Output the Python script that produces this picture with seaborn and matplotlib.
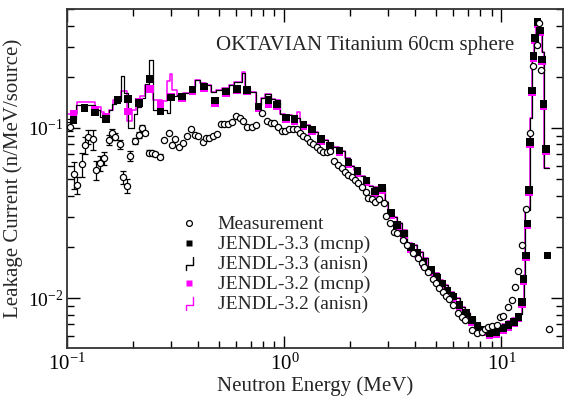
import numpy as np
import pandas as pd
import matplotlib
matplotlib.use("Agg")
import matplotlib.pyplot as plt
import seaborn as sns
from matplotlib.lines import Line2D
from matplotlib.legend_handler import HandlerBase
from matplotlib.ticker import LogLocator, NullFormatter

# ---------------- data ----------------
meas_E = [0.1032, 0.1077, 0.1108, 0.1169, 0.1210, 0.1245, 0.1309, 0.1360, 0.1419, 0.1480,
          0.1551, 0.1607, 0.1653, 0.1744, 0.1800, 0.1884, 0.1951, 0.2045, 0.2133, 0.2209,
          0.2288, 0.2387, 0.2457, 0.2545, 0.2683, 0.2799, 0.2934, 0.3028, 0.3136, 0.3271,
          0.3403, 0.3549, 0.3705, 0.3865, 0.4015, 0.4207, 0.4357, 0.4512, 0.4708, 0.4882,
          0.5109, 0.5291, 0.5521, 0.5741, 0.5990, 0.6250, 0.6474, 0.6754, 0.7076, 0.7384,
          0.7871, 0.8298, 0.8658, 0.8994, 0.9384, 0.9728, 1.0106, 1.051, 1.093, 1.141,
          1.181, 1.223, 1.268, 1.313, 1.360, 1.410, 1.460, 1.512, 1.568, 1.624,
          1.694, 1.762, 1.838, 1.904, 1.972, 2.045, 2.118, 2.193, 2.274, 2.380,
          2.438, 2.528, 2.618, 2.740, 2.889, 2.942, 3.069, 3.203, 3.317, 3.512,
          3.664, 3.905, 4.144, 4.297, 4.403, 4.609, 4.830, 5.002, 5.180, 5.370,
          5.561, 5.760, 6.010, 6.337, 6.570, 6.804, 7.304, 7.751, 8.122, 8.412,
          8.711, 9.032, 9.506, 9.791, 10.21, 10.66, 11.17, 11.57, 11.97, 12.45,
          13.00, 13.46, 13.95, 14.56, 14.81, 15.19, 16.54]
meas_V = [0.1018, 0.0534, 0.0462, 0.0612, 0.0794, 0.0889, 0.0858, 0.0566, 0.0620, 0.0664,
          0.0850, 0.0931, 0.0889, 0.0802, 0.0513, 0.0458, 0.0684, 0.0842, 0.0910, 0.1004,
          0.0931, 0.0716, 0.0710, 0.0703, 0.0678, 0.0850, 0.0938, 0.0794, 0.0858, 0.0776,
          0.0813, 0.0897, 0.0983, 0.0910, 0.0897, 0.0831, 0.0870, 0.0870, 0.0897, 0.0922,
          0.1052, 0.1052, 0.1052, 0.1089, 0.1177, 0.1150, 0.1104, 0.1018, 0.1009, 0.1042,
          0.1221, 0.1104, 0.1074, 0.1066, 0.1018, 0.0964, 0.0964, 0.0983, 0.0991, 0.0991,
          0.0931, 0.0897, 0.0870, 0.0831, 0.0805, 0.0776, 0.0743, 0.0726, 0.0726, 0.0733,
          0.0642, 0.0606, 0.0579, 0.0553, 0.0529, 0.0513, 0.0494, 0.0477, 0.0448, 0.0422,
          0.0386, 0.0381, 0.0369, 0.0382, 0.0364, 0.0304, 0.0275, 0.0245, 0.0240, 0.0219,
          0.0205, 0.0185, 0.0171, 0.0160, 0.0152, 0.0143, 0.0129, 0.0122, 0.0114, 0.0109,
          0.0103, 0.00982, 0.00910, 0.00813, 0.00776, 0.00743, 0.00649, 0.00620, 0.00634, 0.00655,
          0.00678, 0.00684, 0.00693, 0.00776, 0.00783, 0.00889, 0.00973, 0.01156, 0.01449, 0.0204,
          0.0334, 0.0938, 0.230, 0.308, 0.413, 0.218, 0.00655]
# relative uncertainty of the first measured points (rest are hidden by the markers)
meas_relerr = [0.06, 0.18, 0.12, 0.16, 0.115, 0.10, 0.13, 0.13, 0.10, 0.085,
               0.07, 0.056, 0.05, 0.063, 0.085, 0.09, 0.063, 0.04, 0.04, 0.04,
               0.03, 0.03, 0.03, 0.03, 0.03]

mcnp_E = [0.1068, 0.1198, 0.1338, 0.1503, 0.1700, 0.1898, 0.2133, 0.2398, 0.2683, 0.3005,
          0.3378, 0.3776, 0.4266, 0.4793, 0.5370, 0.6035, 0.6731, 0.7605, 0.8439, 0.9256,
          1.018, 1.112, 1.223, 1.342, 1.476, 1.624, 1.792, 1.972, 2.170, 2.392,
          2.618, 2.820, 3.102, 3.306, 3.562, 3.824, 4.102, 4.371, 4.728, 5.040,
          5.313, 5.639, 6.010, 6.405, 6.876, 7.304, 7.751, 8.260, 8.806, 9.454,
          10.15, 10.77, 11.44, 11.97, 12.42, 12.63, 12.95, 13.18, 13.42, 13.56,
          13.81, 14.05, 14.30, 14.65, 15.08, 15.35, 15.62, 16.02, 16.29]
j33_mcnp = [0.1115, 0.1311, 0.1230, 0.1125, 0.1461, 0.1481, 0.1397, 0.1942, 0.1247, 0.1512,
            0.1528, 0.1685, 0.1750, 0.1447, 0.1635, 0.1691, 0.1673, 0.1338, 0.1461, 0.1375,
            0.1153, 0.1129, 0.1049, 0.0980, 0.0862, 0.0789, 0.0736, 0.0627, 0.0559, 0.0490,
            0.0424, 0.0442, 0.0315, 0.0268, 0.0240, 0.0200, 0.0185, 0.0163, 0.0146, 0.0131,
            0.0122, 0.0111, 0.0102, 0.00910, 0.00819, 0.00742, 0.00687, 0.00648, 0.00620, 0.00633,
            0.00663, 0.00694, 0.00725, 0.00776, 0.00947, 0.0129, 0.0178, 0.0275, 0.0432, 0.0827,
            0.1657, 0.2652, 0.3383, 0.4203, 0.3746, 0.2529, 0.1384, 0.0752, 0.0178]
j32_mcnp = [0.1209, 0.1316, 0.1276, 0.1166, 0.1461, 0.1247, 0.1422, 0.1689, 0.1388, 0.1528,
            0.1500, 0.1650, 0.1720, 0.1400, 0.1600, 0.1660, 0.1640, 0.1300, 0.1384, 0.1340,
            0.1120, 0.1100, 0.1020, 0.0955, 0.0840, 0.0770, 0.0718, 0.0612, 0.0545, 0.0478,
            0.0414, 0.0432, 0.0307, 0.0261, 0.0234, 0.0195, 0.0180, 0.0159, 0.0142, 0.0128,
            0.0119, 0.0108, 0.00995, 0.00887, 0.00798, 0.00723, 0.00670, 0.00632, 0.00605, 0.00617,
            0.00647, 0.00677, 0.00707, 0.00757, 0.00925, 0.0126, 0.0174, 0.0268, 0.0421, 0.0807,
            0.1616, 0.2586, 0.3300, 0.4100, 0.3655, 0.2467, 0.1350, 0.0734, 0.0178]

# anisn group histograms: lower group edges (last entry = upper edge of last group)
j33_edges = [0.1, 0.1102, 0.1342, 0.1415, 0.1549, 0.1607, 0.1677, 0.1759, 0.1825, 0.1905,
             0.2019, 0.2095, 0.2186, 0.2281, 0.2367, 0.2474, 0.2865, 0.2973, 0.3203, 0.3414,
             0.3677, 0.3878, 0.4089, 0.4357, 0.4594, 0.4844, 0.5165, 0.5563, 0.5866, 0.6350,
             0.6591, 0.6950, 0.7407, 0.7810, 0.8149, 0.8687, 0.9061, 0.9555, 1.0074, 1.085,
             1.144, 1.181, 1.245, 1.313, 1.375, 1.435, 1.512, 1.595, 1.682, 1.792,
             1.904, 2.008, 2.095, 2.233, 2.355, 2.465, 2.571, 2.911, 3.015, 3.126,
             3.296, 3.475, 3.688, 3.864, 4.074, 4.371, 4.609, 4.861, 5.180, 5.405,
             5.700, 6.053, 6.451, 6.804, 7.174, 7.565, 7.977, 8.412, 8.871, 9.187,
             9.524, 10.04, 10.59, 11.17, 11.78, 12.42, 12.63, 12.79, 13.56, 13.81,
             14.19, 14.37, 14.90, 15.35, 15.66, 16.47]
j33_anisn = [0.1129, 0.1366, 0.1276, 0.1161, 0.1276, 0.1384, 0.1441, 0.2022, 0.1607, 0.1000,
             0.1209, 0.1329, 0.1502, 0.1815, 0.2512, 0.1276, 0.1225, 0.1543, 0.1564, 0.1607,
             0.1742, 0.1916, 0.1839, 0.1790, 0.1628, 0.1673, 0.1719, 0.1790, 0.1864, 0.2107,
             0.1719, 0.1628, 0.1366, 0.1502, 0.1585, 0.1481, 0.1461, 0.1209, 0.1192, 0.1176,
             0.1145, 0.1089, 0.1041, 0.0983, 0.0951, 0.0897, 0.0850, 0.0813, 0.0770, 0.0736,
             0.0663, 0.0598, 0.0566, 0.0522, 0.0490, 0.0456, 0.0448, 0.0368, 0.0322, 0.0301,
             0.0275, 0.0251, 0.0210, 0.0205, 0.0187, 0.0171, 0.0153, 0.0140, 0.0128, 0.0119,
             0.0109, 0.00996, 0.00889, 0.00813, 0.00760, 0.00710, 0.00678, 0.00648, 0.00655, 0.00678,
             0.00684, 0.00703, 0.00732, 0.00763, 0.00805, 0.00973, 0.01365, 0.0329, 0.1145, 0.2512,
             0.3162, 0.4318, 0.377, 0.280, 0.0582]

j32_edges = [0.1, 0.1108, 0.1342, 0.1430, 0.1476, 0.1549, 0.1615, 0.1668, 0.1759, 0.1874,
             0.1976, 0.2062, 0.2163, 0.2268, 0.2367, 0.2469, 0.2732, 0.2881, 0.2958, 0.3038,
             0.3203, 0.3414,
             0.3677, 0.3878, 0.4089, 0.4357, 0.4594, 0.4844, 0.5165, 0.5563, 0.5866, 0.6350,
             0.6591, 0.6950, 0.7407, 0.7810, 0.8149, 0.8687, 0.9061, 0.9555, 1.0074, 1.085,
             1.144, 1.181, 1.245, 1.313, 1.375, 1.435, 1.512, 1.595, 1.682, 1.792,
             1.904, 2.008, 2.095, 2.233, 2.355, 2.465, 2.571, 2.911, 3.015, 3.126,
             3.296, 3.475, 3.688, 3.864, 4.074, 4.371, 4.609, 4.861, 5.180, 5.405,
             5.700, 6.053, 6.451, 6.804, 7.174, 7.565, 7.977, 8.412, 8.871, 9.187,
             9.524, 10.04, 10.59, 11.17, 11.78, 12.42, 12.63, 12.79, 13.56, 13.81,
             14.19, 14.37, 14.90, 15.35, 15.66, 16.47]
j32_anisn = [0.1209, 0.1422, 0.1329, 0.1242, 0.1192, 0.1276, 0.1461, 0.1502, 0.1651, 0.1099,
             0.1276, 0.1422, 0.1543, 0.1790, 0.1766, 0.1461, 0.1441, 0.1890, 0.2078, 0.1673,
             0.1564, 0.1607,
             0.1742, 0.1916, 0.1839, 0.1790, 0.1628, 0.1673, 0.1719, 0.1790, 0.1864, 0.2144,
             0.1719, 0.1628, 0.1366, 0.1502, 0.1585, 0.1481, 0.1461, 0.1209, 0.1192, 0.1176,
             0.1247, 0.1089, 0.1041, 0.0983, 0.0951, 0.0897, 0.0850, 0.0813, 0.0770, 0.0736,
             0.0663, 0.0598, 0.0566, 0.0522, 0.0490, 0.0456, 0.0448, 0.0368, 0.0322, 0.0301,
             0.0275, 0.0251, 0.0210, 0.0205, 0.0187, 0.0171, 0.0153, 0.0140, 0.0128, 0.0119,
             0.0109, 0.00996, 0.00889, 0.00813, 0.00760, 0.00710, 0.00678, 0.00648, 0.00655, 0.00678,
             0.00684, 0.00703, 0.00732, 0.00763, 0.00805, 0.00973, 0.01365, 0.0329, 0.1145, 0.2512,
             0.3162, 0.4318, 0.377, 0.280, 0.0582]

labels = ["Measurement", "JENDL-3.3 (mcnp)", "JENDL-3.3 (anisn)",
          "JENDL-3.2 (mcnp)", "JENDL-3.2 (anisn)"]
title_text = "OKTAVIAN Titanium 60cm sphere"
x_label = "Neutron Energy (MeV)"
y_label = "Leakage Current (n/MeV/source)"

MAG = "#ff00ff"

# ---------------- style ----------------
sns.set_style("ticks")
plt.rcParams["font.family"] = ["Liberation Serif", "DejaVu Serif"]
plt.rcParams["mathtext.fontset"] = "custom"
plt.rcParams["mathtext.rm"] = "Liberation Serif"
plt.rcParams["mathtext.it"] = "Liberation Serif:italic"
plt.rcParams["font.size"] = 15

fig = plt.figure(figsize=(5.68, 4.01), dpi=100)
ax = fig.add_axes([0.1185, 0.132, 0.8727, 0.8454])
ax.set_xscale("log")
ax.set_yscale("log")


def step_frame(edges, vals):
    return pd.DataFrame({"E": edges, "V": list(vals) + [vals[-1]]})


s32 = step_frame(j32_edges, j32_anisn)
s33 = step_frame(j33_edges, j33_anisn)
sns.lineplot(data=s32, x="E", y="V", ax=ax, color=MAG, lw=1.1,
             drawstyle="steps-post", estimator=None, sort=False, zorder=2)
sns.lineplot(data=s33, x="E", y="V", ax=ax, color="black", lw=0.9,
             drawstyle="steps-post", estimator=None, sort=False, zorder=2.1)

m = pd.DataFrame({"E": mcnp_E, "j32": j32_mcnp, "j33": j33_mcnp})
sns.scatterplot(data=m, x="E", y="j32", ax=ax, marker="s", s=30, color=MAG,
                edgecolor="none", linewidth=0, zorder=3)
sns.scatterplot(data=m, x="E", y="j33", ax=ax, marker="s", s=30, color="black",
                edgecolor="none", linewidth=0, zorder=3.1)

mv = np.array(meas_V)
rel = np.zeros(len(mv))
rel[:len(meas_relerr)] = meas_relerr
ax.errorbar(meas_E, mv, yerr=mv * rel, fmt="none", ecolor="black",
            elinewidth=0.9, capsize=2.2, capthick=0.9, zorder=3.5)
meas = pd.DataFrame({"E": meas_E, "V": meas_V})
sns.scatterplot(data=meas, x="E", y="V", ax=ax, marker="o", s=20,
                facecolor="white", edgecolor="black", linewidth=0.9, zorder=4)

ax.set_xlim(0.1, 19.2)
ax.set_ylim(0.00508, 0.5)

ax.set_xlabel(x_label, fontsize=15, labelpad=1)
ax.set_ylabel(y_label, fontsize=15)
ax.yaxis.set_label_coords(-0.09, 0.5)

ax.xaxis.set_major_locator(LogLocator(base=10, numticks=10))
ax.xaxis.set_minor_locator(LogLocator(base=10, subs=np.arange(2, 10), numticks=20))
ax.yaxis.set_major_locator(LogLocator(base=10, numticks=10))
ax.yaxis.set_minor_locator(LogLocator(base=10, subs=np.arange(2, 10), numticks=20))
ax.xaxis.set_minor_formatter(NullFormatter())
ax.yaxis.set_minor_formatter(NullFormatter())
ax.tick_params(which="both", direction="in", top=True, right=True, width=1.0,
               colors="black", labelsize=15)
ax.tick_params(axis="y", which="major", labelsize=14, pad=3)
ax.tick_params(axis="x", which="major", pad=4)
ax.tick_params(which="major", length=9)
ax.tick_params(which="minor", length=5)
for sp in ax.spines.values():
    sp.set_linewidth(1.3)
    sp.set_color("#333333")

ax.text(0.60, 0.893, title_text, transform=ax.transAxes, ha="center", va="center",
        fontsize=15)


class StepHandler(HandlerBase):
    def create_artists(self, legend, orig_handle, xdescent, ydescent, width,
                       height, fontsize, trans):
        x0 = -xdescent + width * 0.35
        x1 = -xdescent + width * 0.75
        y0 = -ydescent - height * 0.05
        ym = -ydescent + height * 0.35
        y1 = -ydescent + height * 0.9
        ln = Line2D([x0, x0, x1, x1], [y0, ym, ym, y1],
                    color=orig_handle.get_color(), lw=1.0, transform=trans)
        return [ln]


h_meas = Line2D([], [], ls="none", marker="o", ms=4.2, mfc="white", mec="black", mew=0.9)
h33m = Line2D([], [], ls="none", marker="s", ms=5, mfc="black", mec="none")
h33a = Line2D([], [], color="black")
h32m = Line2D([], [], ls="none", marker="s", ms=5, mfc=MAG, mec="none")
h32a = Line2D([], [], color=MAG)
leg = ax.legend([h_meas, h33m, h33a, h32m, h32a], labels,
                handler_map={h33a: StepHandler(), h32a: StepHandler()},
                loc="upper left", bbox_to_anchor=(0.225, 0.39), frameon=False,
                fontsize=14, handlelength=1.0, handletextpad=1.0,
                labelspacing=0.12, borderaxespad=0, borderpad=0)

fig.savefig("out.png", dpi=100)
